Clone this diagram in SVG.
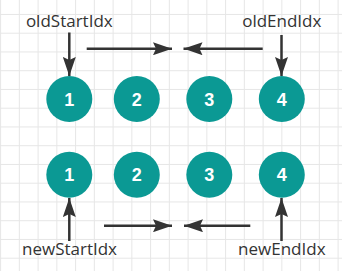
<svg xmlns="http://www.w3.org/2000/svg" width="342" height="271" viewBox="0 0 342 271">
  <defs>
    <pattern id="grid" patternUnits="userSpaceOnUse" x="0.1" y="13.95" width="18.75" height="18.75">
      <path d="M0 0.5 H18.75 M0.5 0 V18.75" fill="none" stroke="#e6e6e6" stroke-width="1"/>
    </pattern>
    <marker id="head" markerUnits="userSpaceOnUse" viewBox="0 0 19 13" markerWidth="19" markerHeight="13" refX="19" refY="6.5" orient="auto">
      <path d="M0 0 L19 6.5 L0 13 L3 6.5 Z" fill="#333333"/>
    </marker>
  </defs>
  <style>
    .node circle { fill: #0b9994; }
    .node text { fill: #ffffff; font-family: "Liberation Sans", Arial, sans-serif; font-weight: bold; font-size: 18px; text-anchor: middle; }
    .label { fill: #333333; font-family: "Open Sans", "Liberation Sans", sans-serif; font-size: 17px; text-anchor: middle; }
    .edges line { stroke: #333333; stroke-width: 2.5; marker-end: url(#head); }
  </style>

  <rect width="342" height="271" fill="#ffffff"/>
  <rect width="342" height="271" fill="url(#grid)"/>

  <!-- old list -->
  <g id="old1" class="node"><circle cx="69.3" cy="99" r="23"/><text x="69.3" y="105.5">1</text></g>
  <g id="old2" class="node"><circle cx="136.8" cy="99" r="23"/><text x="136.8" y="105.5">2</text></g>
  <g id="old3" class="node"><circle cx="209.3" cy="99" r="23"/><text x="209.3" y="105.5">3</text></g>
  <g id="old4" class="node"><circle cx="281.8" cy="99" r="23"/><text x="281.8" y="105.5">4</text></g>

  <!-- new list -->
  <g id="new1" class="node"><circle cx="69.3" cy="174.7" r="23"/><text x="69.3" y="181.2">1</text></g>
  <g id="new2" class="node"><circle cx="136.8" cy="174.7" r="23"/><text x="136.8" y="181.2">2</text></g>
  <g id="new3" class="node"><circle cx="209.3" cy="174.7" r="23"/><text x="209.3" y="181.2">3</text></g>
  <g id="new4" class="node"><circle cx="281.8" cy="174.7" r="23"/><text x="281.8" y="181.2">4</text></g>

  <!-- index pointers -->
  <g id="oldStartIdx"><text class="label" x="69.3" y="27">oldStartIdx</text></g>
  <g id="oldEndIdx"><text class="label" x="281.8" y="27">oldEndIdx</text></g>
  <g id="newStartIdx"><text class="label" x="69.5" y="255">newStartIdx</text></g>
  <g id="newEndIdx"><text class="label" x="281.8" y="255">newEndIdx</text></g>

  <g id="connectors" class="edges">
    <line x1="69.3" y1="32.5" x2="69.3" y2="76"/>
    <line x1="281.5" y1="35" x2="281.5" y2="76"/>
    <line x1="86.7" y1="48.7" x2="172" y2="48.7"/>
    <line x1="262.7" y1="48.7" x2="183.5" y2="48.7"/>
    <line x1="69.3" y1="241" x2="69.3" y2="198"/>
    <line x1="281.5" y1="241" x2="281.5" y2="198"/>
    <line x1="104" y1="225.7" x2="172" y2="225.7"/>
    <line x1="250.3" y1="225.7" x2="184" y2="225.7"/>
  </g>
</svg>
